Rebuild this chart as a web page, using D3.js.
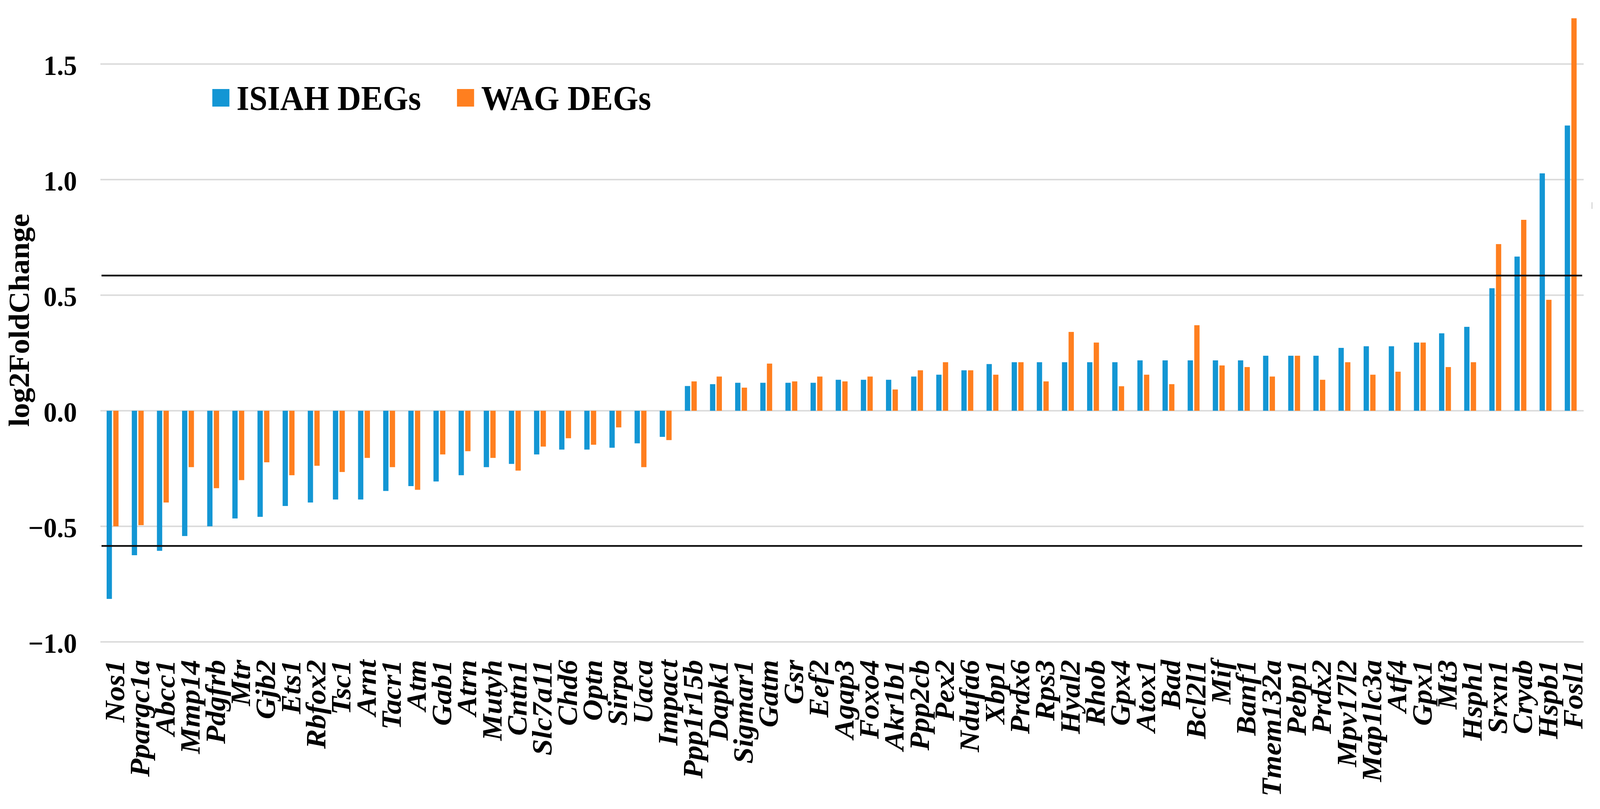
<!DOCTYPE html>
<html>
<head>
<meta charset="utf-8">
<script src="https://cdn.jsdelivr.net/npm/d3@7"></script>
<style>
  html, body { margin: 0; padding: 0; background: #fff; overflow: hidden; }
  svg { display: block; }
  text { font-family: "Liberation Serif", "Times New Roman", serif; font-weight: bold; }
</style>
</head>
<body>
<div id="chart"></div>
<script>
// Chart size (drawing units; the svg is scaled to fill the window)
var svgWidth = 4303;
var svgHeight = 2072;

// Genes on the x axis
var genes = ["Nos1", "Ppargc1a", "Abcc1", "Mmp14", "Pdgfrb", "Mtr", "Gjb2", "Ets1", "Rbfox2", "Tsc1",
  "Arnt", "Tacr1", "Atm", "Gab1", "Atrn", "Mutyh", "Cntn1", "Slc7a11", "Chd6", "Optn",
  "Sirpa", "Uaca", "Impact", "Ppp1r15b", "Dapk1", "Sigmar1", "Gatm", "Gsr", "Eef2", "Agap3",
  "Foxo4", "Akr1b1", "Ppp2cb", "Pex2", "Ndufa6", "Xbp1", "Prdx6", "Rps3", "Hyal2", "Rhob",
  "Gpx4", "Atox1", "Bad", "Bcl2l1", "Mif", "Banf1", "Tmem132a", "Pebp1", "Prdx2", "Mpv17l2",
  "Map1lc3a", "Atf4", "Gpx1", "Mt3", "Hsph1", "Srxn1", "Cryab", "Hspb1", "Fosl1"];

// log2FoldChange, ISIAH DEGs
var isiahValues = [-0.814, -0.625, -0.606, -0.542, -0.50, -0.466, -0.459, -0.412, -0.397, -0.384,
  -0.384, -0.347, -0.326, -0.306, -0.279, -0.244, -0.230, -0.189, -0.168, -0.168,
  -0.160, -0.141, -0.113, 0.107, 0.115, 0.121, 0.121, 0.121, 0.121, 0.134,
  0.134, 0.134, 0.148, 0.156, 0.175, 0.202, 0.210, 0.210, 0.210, 0.210,
  0.210, 0.218, 0.218, 0.218, 0.218, 0.218, 0.238, 0.238, 0.238, 0.272,
  0.279, 0.279, 0.295, 0.335, 0.363, 0.530, 0.667, 1.027, 1.234];

// log2FoldChange, WAG DEGs
var wagValues = [-0.50, -0.495, -0.397, -0.244, -0.335, -0.30, -0.223, -0.279, -0.238, -0.265,
  -0.204, -0.244, -0.342, -0.189, -0.175, -0.204, -0.259, -0.155, -0.119, -0.147,
  -0.072, -0.244, -0.127, 0.127, 0.148, 0.100, 0.204, 0.127, 0.148, 0.127,
  0.148, 0.092, 0.175, 0.210, 0.175, 0.156, 0.210, 0.127, 0.341, 0.295,
  0.106, 0.156, 0.115, 0.370, 0.196, 0.189, 0.148, 0.238, 0.134, 0.210,
  0.156, 0.169, 0.295, 0.189, 0.210, 0.721, 0.826, 0.480, 1.698];

var seriesNames = ["ISIAH DEGs", "WAG DEGs"];
var seriesColors = ["#1396d4", "#ff7f1f"];

// y ticks and the +/- log2(1.5) threshold lines
var yTicks = [-1.0, -0.5, 0.0, 0.5, 1.0, 1.5];
var thresholds = [0.585, -0.585];

// Plot area
var plotLeft = 270;
var plotRight = 4259;

var svg = d3.select("#chart")
  .append("svg")
  .attr("viewBox", `0 0 ${svgWidth} ${svgHeight}`)
  .attr("preserveAspectRatio", "none")
  .style("width", "100vw")
  .style("height", "100vh")
  .style("background", "#fff");

// Scales
var x0 = d3.scaleBand()
  .domain(genes)
  .range([plotLeft, plotRight]);

var x1 = d3.scaleBand()
  .domain(seriesNames)
  .range([-17, 15])
  .paddingInner(0.2);

var y = d3.scaleLinear()
  .domain([-1.0, 1.5])
  .range([1644, 164]);

// Gridlines
svg.append("g")
  .selectAll("line")
  .data(yTicks)
  .enter()
  .append("line")
  .attr("x1", plotLeft)
  .attr("x2", plotRight)
  .attr("y1", d => y(d))
  .attr("y2", d => y(d))
  .attr("stroke", "#dcdcdc")
  .attr("stroke-width", 4);

// Y axis labels (no axis line)
var leftAxis = d3.axisLeft(y)
  .tickValues(yTicks)
  .tickSize(0)
  .tickPadding(0)
  .tickFormat(d => d3.format(".1f")(d).replace("-", "\u2212"));

var yAxis = svg.append("g")
  .attr("transform", "translate(207, 0)")
  .call(leftAxis);

yAxis.select(".domain").remove();
yAxis.selectAll("text")
  .attr("font-size", "72px")
  .attr("font-family", "Liberation Serif, Times New Roman, serif")
  .attr("font-weight", "bold")
  .attr("fill", "#000")
  .attr("dy", "0.38em");

// Bars
var seriesData = [isiahValues, wagValues];

seriesData.forEach(function(values, s) {
  svg.append("g")
    .selectAll("rect")
    .data(values)
    .enter()
    .append("rect")
    .attr("x", (d, i) => x0(genes[i]) + x0.bandwidth() / 2 + x1(seriesNames[s]))
    .attr("width", x1.bandwidth())
    .attr("y", d => y(Math.max(0, d)))
    .attr("height", d => Math.abs(y(d) - y(0)))
    .attr("fill", seriesColors[s]);
});

// Threshold lines
svg.append("g")
  .selectAll("line")
  .data(thresholds)
  .enter()
  .append("line")
  .attr("x1", plotLeft + 3)
  .attr("x2", plotRight - 4)
  .attr("y1", d => y(d))
  .attr("y2", d => y(d))
  .attr("stroke", "#111")
  .attr("stroke-width", 4.5);

// Gene labels, rotated
svg.append("g")
  .selectAll("text")
  .data(genes)
  .enter()
  .append("text")
  .attr("transform", d => `translate(${x0(d) + x0.bandwidth() / 2}, 1690) rotate(-90)`)
  .attr("dy", "0.4em")
  .attr("text-anchor", "end")
  .attr("font-size", "76px")
  .attr("font-style", "italic")
  .attr("fill", "#000")
  .text(d => d);

// Y axis title
svg.append("text")
  .attr("transform", "translate(78, 820) rotate(-90)")
  .attr("text-anchor", "middle")
  .attr("font-size", "78px")
  .attr("fill", "#000")
  .text("log2FoldChange");

// Legend
var legend = svg.append("g");
var legendX = [571, 1229];

seriesNames.forEach(function(name, s) {
  legend.append("rect")
    .attr("x", legendX[s])
    .attr("y", 228)
    .attr("width", 46)
    .attr("height", 45)
    .attr("fill", seriesColors[s]);

  legend.append("text")
    .attr("x", legendX[s] + 65)
    .attr("y", 281)
    .attr("font-size", "88px")
    .attr("fill", "#000")
    .text(name);
});

// small stray mark at the right edge
svg.append("rect")
  .attr("x", 4280)
  .attr("y", 518)
  .attr("width", 3)
  .attr("height", 17)
  .attr("fill", "#d6d6d6");
</script>
</body>
</html>
